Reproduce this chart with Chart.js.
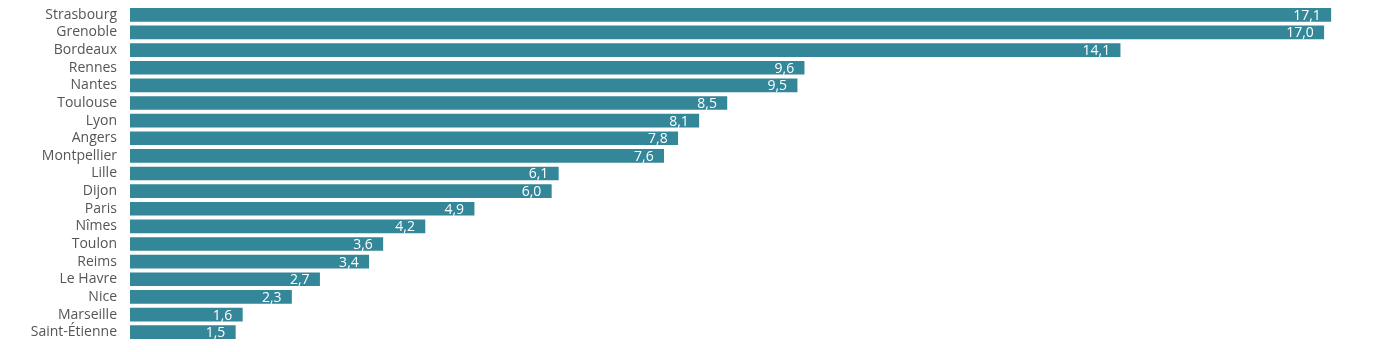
<!DOCTYPE html>
<html>

<head>
  <meta charset="utf-8">
  <title>Villes</title>
  <style>
    html, body {
      margin: 0;
      background: #fff;
    }
  </style>
</head>

<body>
  <canvas id="city-chart" width="1400" height="352"></canvas>

  <script src="https://cdn.jsdelivr.net/npm/chart.js"></script>

  <script>
    const cities = ['Strasbourg', 'Grenoble', 'Bordeaux', 'Rennes', 'Nantes', 'Toulouse', 'Lyon', 'Angers',
      'Montpellier', 'Lille', 'Dijon', 'Paris', 'Nîmes', 'Toulon', 'Reims', 'Le Havre', 'Nice', 'Marseille',
      'Saint-Étienne'];
    const values = [17.1, 17.0, 14.1, 9.6, 9.5, 8.5, 8.1, 7.8, 7.6, 6.1, 6.0, 4.9, 4.2, 3.6, 3.4, 2.7, 2.3, 1.6, 1.5];

    const fontFamily = '"Open Sans", Lato, sans-serif';

    // valeurs en blanc dans le bout de chaque barre
    const valueLabels = {
      id: 'valueLabels',
      afterDatasetsDraw(chart) {
        const { ctx } = chart;
        const meta = chart.getDatasetMeta(0);
        ctx.save();
        ctx.fillStyle = '#fff';
        ctx.font = '14px ' + fontFamily;
        ctx.textAlign = 'right';
        ctx.textBaseline = 'middle';
        meta.data.forEach((bar, i) => {
          const txt = values[i].toFixed(1).replace('.', ',');
          ctx.fillText(txt, bar.x - 10, bar.y + 1);
        });
        ctx.restore();
      }
    };

    new Chart(document.getElementById('city-chart'), {
      type: 'bar',
      data: {
        labels: cities,
        datasets: [{
          data: values,
          backgroundColor: '#348699',
          borderWidth: 0,
          barThickness: 13
        }]
      },
      options: {
        indexAxis: 'y',
        responsive: false,
        animation: false,
        layout: { padding: { top: 6, bottom: 11, right: 6, left: 0 } },
        plugins: {
          legend: { display: false },
          tooltip: { enabled: false }
        },
        scales: {
          x: {
            display: false,
            min: 0,
            max: 18
          },
          y: {
            grid: { display: false, drawTicks: false },
            border: { display: false },
            afterFit(scale) {
              scale.width = 130;
              scale.paddingTop = 0;
              scale.paddingBottom = 0;
            },
            ticks: {
              padding: 13,
              color: '#555',
              autoSkip: false,
              font: { size: 14, family: fontFamily }
            }
          }
        }
      },
      plugins: [valueLabels]
    });
  </script>
</body>

</html>
